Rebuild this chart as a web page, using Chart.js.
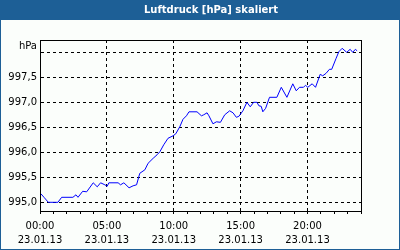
<!DOCTYPE html>
<html>
<head>
<meta charset="utf-8">
<script src="https://cdn.jsdelivr.net/npm/chart.js@4/dist/chart.umd.min.js"></script>
<style>
  html, body { margin: 0; padding: 0; background: #fbfefb; }
  #wrap { width: 400px; height: 250px; }
</style>
</head>
<body>
<div id="wrap"><canvas id="pressureChart" width="400" height="250"></canvas></div>
<script>
// values
const titleText = "Luftdruck [hPa] skaliert";
const unitLabel = "hPa";
const dateLabel = "23.01.13";
const hours = [
  0.07, 0.3, 0.62, 1.34, 1.62, 2.46, 2.69, 2.84, 3.19, 3.49, 3.98, 4.28, 4.53, 4.85, 5.02, 5.15,
  5.84, 6.02, 6.27, 6.66, 6.96, 7.22, 7.46, 7.84, 8.08, 8.46, 8.75, 8.96, 9.25, 9.57, 9.95, 10.15,
  10.45, 10.69, 10.95, 11.14, 11.74, 12.07, 12.24, 12.49, 12.63, 12.93, 13.19, 13.49, 13.81, 14.18,
  14.43, 14.68, 14.87, 15.17, 15.47, 15.72, 15.97, 16.22, 16.37, 16.54, 16.66, 16.87, 17.16, 17.71,
  18.04, 18.46, 18.9, 19.16, 19.4, 19.7, 19.85, 20.02, 20.35, 20.6, 20.95, 21.14, 21.39, 21.64,
  21.81, 22.14, 22.34, 22.59, 22.93, 23.19, 23.38, 23.58, 23.71
];
const pressure = [
  995.17, 995.1, 995.0, 995.0, 995.1, 995.1, 995.15, 995.1, 995.22, 995.21, 995.39, 995.31, 995.39, 995.35, 995.32, 995.39,
  995.39, 995.35, 995.39, 995.29, 995.33, 995.35, 995.58, 995.65, 995.78, 995.88, 995.95, 996.01, 996.15, 996.28, 996.33, 996.37,
  996.51, 996.66, 996.73, 996.81, 996.81, 996.73, 996.75, 996.79, 996.73, 996.57, 996.61, 996.6, 996.75, 996.83,
  996.79, 996.7, 996.72, 996.83, 997.0, 996.91, 997.0, 997.0, 996.93, 996.92, 996.81, 996.88, 997.1, 997.1,
  997.3, 997.1, 997.37, 997.23, 997.3, 997.3, 997.34, 997.3, 997.37, 997.3, 997.56, 997.53, 997.58, 997.66,
  997.66, 997.88, 998.01, 998.08, 998.0, 998.06, 998.0, 998.06, 998.03
];
const yTicks = [995.0, 995.5, 996.0, 996.5, 997.0, 997.5, 998.0];
const xTickHours = [0, 1, 2, 3, 4, 5, 6, 7, 8, 9, 10, 11, 12, 13, 14, 15, 16, 17, 18, 19, 20, 21, 22, 23, 24];
const yMin = 994.826, yMax = 998.246;

const FONT = "'DejaVu Sans', Verdana, sans-serif";
const BLUE = "#1d5f96";

const frame = {
  id: "frame",
  beforeDraw(chart) {
    const c = chart.ctx;
    c.save();
    c.fillStyle = "#fbfefb";
    c.fillRect(0, 0, 400, 250);
    c.fillStyle = BLUE;
    c.fillRect(0, 0, 400, 20);
    c.strokeStyle = BLUE;
    c.lineWidth = 1;
    c.strokeRect(0.5, 0.5, 399, 249);
    c.fillStyle = "#ffffff";
    c.font = "bold 10px " + FONT;
    c.textAlign = "center";
    c.textBaseline = "middle";
    c.fillText(titleText, 211, 10.5);
    c.restore();
  },
  afterDraw(chart) {
    const c = chart.ctx, a = chart.chartArea;
    c.save();
    c.strokeStyle = "#000";
    c.lineWidth = 1;
    c.strokeRect(Math.round(a.left) + 0.5, Math.round(a.top) + 0.5,
      Math.round(a.right - a.left), Math.round(a.bottom - a.top));
    c.fillStyle = "#000";
    c.font = "10px " + FONT;
    c.textAlign = "right";
    c.textBaseline = "middle";
    c.fillText(unitLabel, 37, 46);
    c.restore();
  }
};

new Chart(document.getElementById("pressureChart").getContext("2d"), {
  type: "line",
  data: {
    datasets: [{
      data: hours.map((h, i) => ({ x: h, y: pressure[i] })),
      borderColor: "#0000ff",
      borderWidth: 1,
      pointRadius: 0,
      tension: 0,
      fill: false
    }]
  },
  options: {
    responsive: false,
    animation: false,
    layout: { padding: { top: 40, right: 39, left: 0, bottom: 0 } },
    plugins: { legend: { display: false }, tooltip: { enabled: false } },
    scales: {
      x: {
        type: "linear",
        min: 0,
        max: 24,
        afterBuildTicks: s => { s.ticks = xTickHours.map(v => ({ value: v })); },
        afterFit: s => { s.height = 39; },
        grid: {
          color: c => (c.tick && c.tick.value % 5 === 0 ? "#000" : "rgba(0,0,0,0)"),
          tickColor: "#000",
          tickLength: 3
        },
        border: { color: "#000", dash: [3, 3] },
        ticks: {
          autoSkip: false,
          maxRotation: 0,
          padding: 5,
          color: "#000",
          font: { family: FONT, size: 10, lineHeight: 1.45 },
          callback: v => (v % 5 === 0 && v < 24
            ? [String(v).padStart(2, "0") + ":00", dateLabel] : "")
        }
      },
      y: {
        min: yMin,
        max: yMax,
        afterBuildTicks: s => { s.ticks = yTicks.map(v => ({ value: v })); },
        afterFit: s => { s.width = 40; },
        grid: { color: "#000", drawTicks: false },
        border: { color: "#000", dash: [3, 3] },
        ticks: {
          padding: 3,
          color: "#000",
          font: { family: FONT, size: 10 },
          callback: v => (v >= 998 ? "" : v.toFixed(1).replace(".", ","))
        }
      }
    }
  },
  plugins: [frame]
});
</script>
</body>
</html>
